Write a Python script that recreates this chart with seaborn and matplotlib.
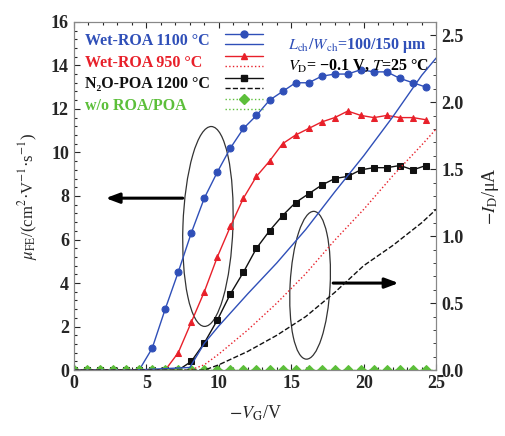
import numpy as np
import seaborn as sns
import matplotlib
matplotlib.use("Agg")
import matplotlib.pyplot as plt
from matplotlib.lines import Line2D
from matplotlib.patches import Ellipse
from matplotlib.ticker import MultipleLocator
from matplotlib.legend_handler import HandlerBase
import matplotlib.transforms as mtransforms

# gate voltage sweep for mobility
vg = [0.0, 0.9, 1.8, 2.7, 3.6, 4.5, 5.4, 6.3, 7.2, 8.1, 9.0, 9.9, 10.8, 11.7,
      12.6, 13.5, 14.4, 15.3, 16.2, 17.1, 18.0, 18.9, 19.8, 20.7, 21.6, 22.5,
      23.4, 24.3]
mu_wet1100 = [0, 0, 0, 0, 0, 0, 1.0, 2.8, 4.5, 6.3, 7.9, 9.1, 10.2, 11.1,
              11.7, 12.4, 12.8, 13.2, 13.2, 13.5, 13.6, 13.6, 13.8, 13.7,
              13.7, 13.4, 13.2, 13.0]
mu_wet950 = [0, 0, 0, 0, 0, 0, 0, 0, 0.8, 2.2, 3.6, 5.2, 6.6, 7.9, 8.9, 9.6,
             10.4, 10.8, 11.1, 11.4, 11.6, 11.9, 11.7, 11.6, 11.7, 11.6,
             11.6, 11.5]
mu_n2o = [0, 0, 0, 0, 0, 0, 0, 0, 0, 0.4, 1.25, 2.3, 3.5, 4.5, 5.6, 6.4, 7.1,
          7.7, 8.1, 8.5, 8.8, 8.9, 9.2, 9.3, 9.3, 9.4, 9.2, 9.4]
mu_none = [0] * len(vg)

# drain current vs gate voltage (right axis)
vg_i = [0, 4, 8, 9, 10, 12, 14, 16, 18, 20, 22, 24, 25]
id_wet1100 = [0, 0, 0.02, 0.2, 0.33, 0.57, 0.8, 1.05, 1.33, 1.6, 1.89, 2.2, 2.33]
id_wet950 = [0, 0, 0, 0.04, 0.12, 0.3, 0.5, 0.72, 0.97, 1.2, 1.45, 1.68, 1.8]
id_n2o = [0, 0, 0, 0, 0.04, 0.14, 0.26, 0.4, 0.58, 0.78, 0.93, 1.1, 1.2]
id_none = [0] * len(vg_i)

labels = ["Wet-ROA 1100 °C", "Wet-ROA 950 °C", "N₂O-POA 1200 °C", "w/o ROA/POA"]
colors = ["#2f4fb8", "#e8202a", "#111111", "#5cbf3a"]
markers = ["o", "^", "s", "D"]
mu_ls = ["-", "-", "-", ":"]
id_ls = ["-", ":", "--", ":"]


class StackHandler(HandlerBase):
    # two short lines one above the other, marker on the upper one
    def create_artists(self, legend, orig_handle, xd, yd, w, h, fs, trans):
        top, bot = orig_handle
        y1 = 0.95 * h - yd
        y2 = 0.05 * h - yd
        arts = []
        for ln, yy in ((top, y1), (bot, y2)):
            l = Line2D([-xd, -xd + w], [yy, yy], color=ln.get_color(),
                       ls=ln.get_linestyle(), lw=ln.get_linewidth())
            l.set_transform(trans)
            arts.append(l)
        m = Line2D([-xd + w / 2], [y1], marker=top.get_marker(), ls="none",
                   color=top.get_color(), markersize=top.get_markersize())
        m.set_transform(trans)
        arts.append(m)
        return arts


sns.set_style("ticks")
plt.rcParams["font.family"] = ["Liberation Serif", "DejaVu Serif"]
plt.rcParams["mathtext.fontset"] = "stix"
plt.rcParams["xtick.direction"] = "in"
plt.rcParams["ytick.direction"] = "in"

fig = plt.figure(figsize=(5.06, 4.36), dpi=100)
ax = fig.add_axes([0.146, 0.151, 0.716, 0.799])
ax2 = ax.twinx()

mus = [mu_wet1100, mu_wet950, mu_n2o, mu_none]
ids = [id_wet1100, id_wet950, id_n2o, id_none]
handles = []
for i in range(4):
    sns.lineplot(x=vg, y=mus[i], ax=ax, color=colors[i], marker=markers[i],
                 markersize=5, linewidth=1, linestyle=mu_ls[i],
                 markeredgecolor=colors[i], zorder=3)
    sns.lineplot(x=vg_i, y=ids[i], ax=ax2, color=colors[i], linewidth=1,
                 linestyle=id_ls[i], zorder=2)
    top = Line2D([], [], color=colors[i], marker=markers[i], markersize=5,
                 lw=1, ls=mu_ls[i])
    bot = Line2D([], [], color=colors[i], lw=1, ls=id_ls[i])
    handles.append((top, bot))

ax.set_xlim(0, 25)
ax.set_ylim(0, 16)
ax2.set_ylim(0, 2.6)
ax.xaxis.set_major_locator(MultipleLocator(5))
ax.xaxis.set_minor_locator(MultipleLocator(1))
ax.yaxis.set_major_locator(MultipleLocator(2))
ax.yaxis.set_minor_locator(MultipleLocator(0.4))
ax2.yaxis.set_major_locator(MultipleLocator(0.5))
ax2.yaxis.set_minor_locator(MultipleLocator(0.1))
ax2.yaxis.set_major_formatter(matplotlib.ticker.FormatStrFormatter("%.1f"))

ax.tick_params(which="both", top=True, labelsize=13, width=0.8)
ax.tick_params(which="major", length=4)
ax.tick_params(which="minor", length=2)
ax2.tick_params(which="major", length=4, labelsize=13)
ax2.tick_params(which="minor", length=2)
for lab in ax.get_xticklabels() + ax.get_yticklabels() + ax2.get_yticklabels():
    lab.set_fontweight("bold")
for sp in list(ax.spines.values()) + list(ax2.spines.values()):
    sp.set_color("#888888")
    sp.set_linewidth(0.8)

ax.set_xlabel(r"$-V_{\rm G}$/V", fontsize=13, labelpad=8)
ax.set_ylabel(r"$\mu_{\rm FE}$/(cm$^2$·V$^{-1}$·s$^{-1}$)", fontsize=12, labelpad=8)
ax2.set_ylabel(r"$-I_{\rm D}$/μA", fontsize=13, labelpad=12)

# legend: left-aligned coloured names, handles in a fixed column to their right
leg_kw = dict(loc="upper left", frameon=False, fontsize=11.5,
              labelspacing=0.35, borderaxespad=0.3)
blank = [Line2D([], [], ls="none")] * 4
leg1 = ax.legend(handles=blank, labels=labels, handlelength=0, handletextpad=0,
                 bbox_to_anchor=(0.0, 1.0), **leg_kw)
for t, c in zip(leg1.get_texts(), colors):
    t.set_color(c)
    t.set_fontweight("bold")
ax.add_artist(leg1)
leg2 = ax.legend(handles=handles, labels=[" "] * 4, handler_map={tuple: StackHandler()},
                 handlelength=2.4, handletextpad=0, bbox_to_anchor=(0.385, 1.0), **leg_kw)

ax.text(0.59, 0.958, r"$L_{\rm ch}$/$W_{\rm ch}$=100/150 μm", transform=ax.transAxes,
        color=colors[0], fontsize=11.5, fontweight="bold", va="top")
ax.text(0.59, 0.898, r"$V_{\rm D}$= −0.1 V, $T$=25 °C", transform=ax.transAxes,
        color="black", fontsize=11.5, fontweight="bold", va="top")

# ellipses and arrows marking which axis each group belongs to
e1 = Ellipse((0, 0), 0.5, 2.0, angle=-2, fill=False, color="#333333", lw=0.9,
             transform=fig.dpi_scale_trans + mtransforms.ScaledTranslation(9.25, 6.6, ax.transData))
e2 = Ellipse((0, 0), 0.4, 1.48, angle=-3, fill=False, color="#333333", lw=0.9,
             transform=fig.dpi_scale_trans + mtransforms.ScaledTranslation(16.3, 3.9, ax.transData))
ax.add_patch(e1)
ax.add_patch(e2)
ax.annotate("", xy=(2.0, 7.9), xytext=(7.7, 7.9),
            arrowprops=dict(arrowstyle="-|>,head_length=0.8,head_width=0.3",
                            color="black", lw=2.2))
ax.annotate("", xy=(22.6, 4.0), xytext=(17.7, 4.0),
            arrowprops=dict(arrowstyle="-|>,head_length=0.8,head_width=0.3",
                            color="black", lw=2.2))

fig.savefig("out.png", dpi=100)
